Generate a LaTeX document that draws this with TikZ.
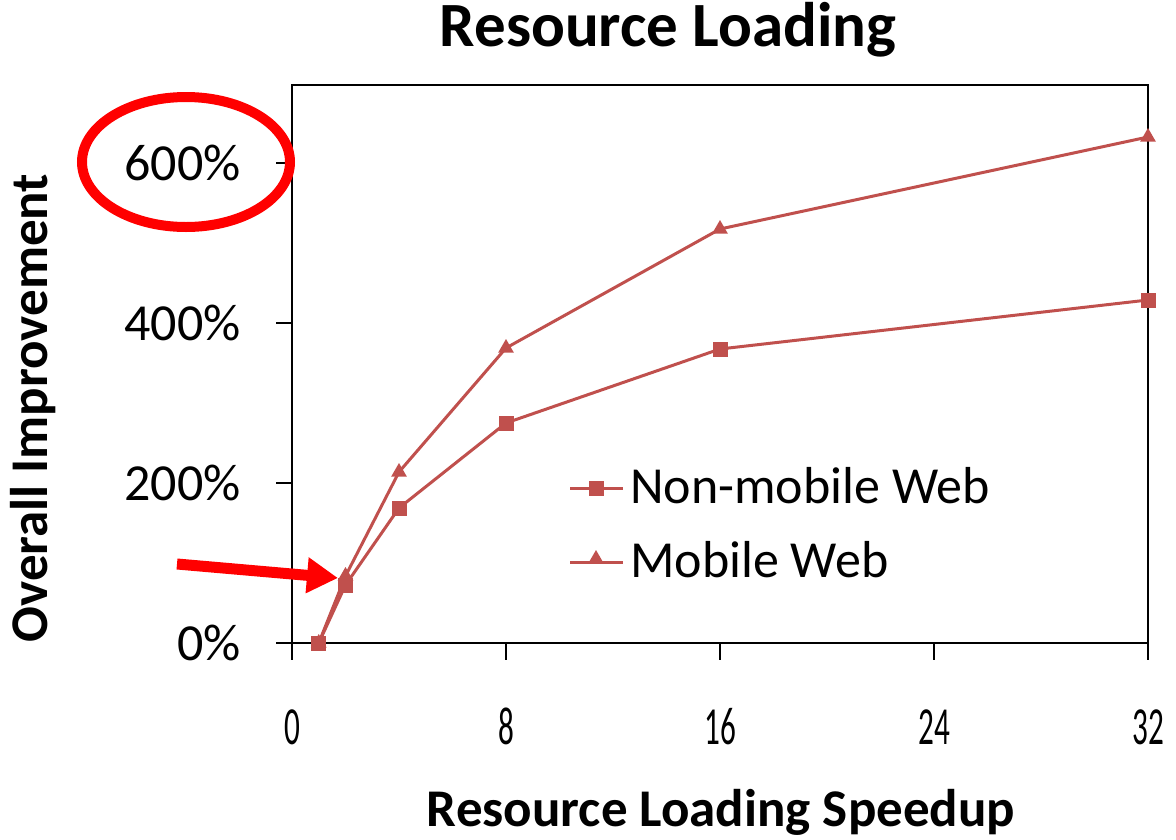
\documentclass[tikz,border=0pt]{standalone}
\usepackage{fontspec}
\setmainfont{Carlito}
\usetikzlibrary{arrows.meta,shapes.geometric}
\definecolor{series}{HTML}{C0504D}
\begin{document}
\begin{tikzpicture}[x=1pt,y=-1pt,
  axisline/.style={black,line width=2.5pt},
  seriesline/.style={series,line width=3pt},
  sqmark/.style={rectangle,fill=series,draw=none,minimum size=15pt,inner sep=0pt},
  trimark/.style={regular polygon,regular polygon sides=3,fill=series,draw=none,minimum size=18pt,inner sep=0pt},
  ticklabel/.style={font=\fontsize{52pt}{60pt}\selectfont,inner sep=0pt},
  axislabel/.style={font=\fontsize{53pt}{60pt}\selectfont\bfseries,inner sep=0pt},
  legendtext/.style={font=\fontsize{52pt}{60pt}\selectfont,inner sep=0pt,anchor=base west},
  highlight/.style={red,line width=10pt},
  pointer/.style={red,line width=11pt,-{Triangle[length=31pt,width=34pt]}}
]
\useasboundingbox (0,0) rectangle (1176,839);

% plot frame and tick marks
\draw[axisline] (292,85) rectangle (1148,643);
\foreach \yy in {643,483,323,163} \draw[axisline] (276,\yy) -- (292,\yy);
\foreach \xx in {292,506,720,934,1148} \draw[axisline] (\xx,643) -- (\xx,660);

% y tick labels
\node[ticklabel,anchor=east] (y0) at (241,643) {0\%};
\node[ticklabel,anchor=east] (y200) at (241,483) {200\%};
\node[ticklabel,anchor=east] (y400) at (241,323) {400\%};
\node[ticklabel,anchor=east] (y600) at (241,163) {600\%};

% x tick labels (condensed)
\foreach \xx/\lab in {292/0,506/8,720/16,934/24,1148/32}
  \node[ticklabel,anchor=base] (x\lab) at (\xx,744) {\scalebox{0.6}[1.03]{\lab}};

% data points
\coordinate (n1) at (318.75,643);
\coordinate (n2) at (345.5,585);
\coordinate (n4) at (399,508);
\coordinate (n8) at (506,423);
\coordinate (n16) at (720,349);
\coordinate (n32) at (1148,300);
\coordinate (m1) at (318.75,643);
\coordinate (m2) at (345.5,576);
\coordinate (m4) at (399,472);
\coordinate (m8) at (506,348);
\coordinate (m16) at (720,229);
\coordinate (m32) at (1148,137);

\draw[seriesline] (m1) -- (m2) -- (m4) -- (m8) -- (m16) -- (m32);
\draw[seriesline] (n1) -- (n2) -- (n4) -- (n8) -- (n16) -- (n32);
\foreach \p in {1,2,4,8,16,32} \node[trimark] (mk\p) at (m\p) {};
\foreach \p in {1,2,4,8,16,32} \node[sqmark] (nk\p) at (n\p) {};

% legend
\coordinate (la) at (570,488);
\coordinate (lb) at (623,488);
\draw[seriesline] (la) -- (lb);
\node[sqmark] (lsq) at (596,488) {};
\node[legendtext] (lt1) at (630,503) {Non-mobile Web};
\coordinate (lc) at (570,562);
\coordinate (ld) at (623,562);
\draw[seriesline] (lc) -- (ld);
\node[trimark] (ltri) at (596,559) {};
\node[legendtext] (lt2) at (630,577) {Mobile Web};

% titles
\node[font=\fontsize{63pt}{70pt}\selectfont\bfseries,inner sep=0pt,anchor=base] (title) at (668,46) {Resource Loading};
\node[axislabel,anchor=base] (xlabel) at (721,826) {Resource Loading Speedup};
\node[axislabel,anchor=base,rotate=90] (ylabel) at (47,408) {Overall Improvement};

% red annotations
\node[draw=none,inner sep=0pt] (ring) at (186,162) {};
\draw[highlight] (ring) ellipse [x radius=104, y radius=65];
\coordinate (arrowtail) at (177,564);
\coordinate (arrowtip) at (338,578);
\draw[pointer] (arrowtail) -- (arrowtip);
\end{tikzpicture}
\end{document}
